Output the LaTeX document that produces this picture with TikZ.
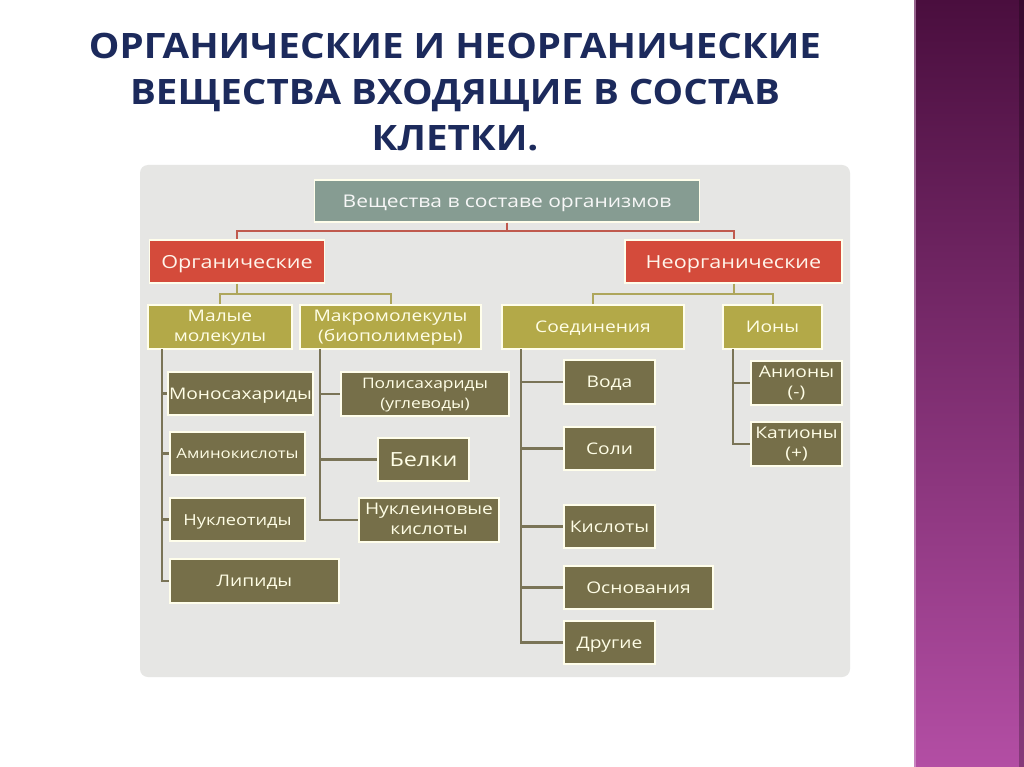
\documentclass[tikz,border=0pt]{standalone}
\usepackage{fontspec}
\setmainfont{Open Sans}[FakeStretch=1.2]
\newfontfamily\titlefont{Open Sans}[FakeStretch=1.1]
\usetikzlibrary{shapes.geometric}

\definecolor{slidenavy}{HTML}{1C2A5C}
\definecolor{panelgray}{HTML}{E6E6E4}
\definecolor{rootgreen}{HTML}{869C92}
\definecolor{classred}{HTML}{D44B3B}
\definecolor{groupolive}{HTML}{B3A948}
\definecolor{itemolive}{HTML}{766F49}
\definecolor{redline}{HTML}{C05A4E}
\definecolor{oliveline}{HTML}{AEA65C}
\definecolor{darkline}{HTML}{7A7457}
\definecolor{bandtop}{HTML}{4A0E3E}
\definecolor{bandbot}{HTML}{B34EA4}

% two centred lines inside one box
\newcommand\boxlines[2]{\raisebox{-3pt}{\begin{tabular}{@{}c@{}}#1\\#2\end{tabular}}}

\begin{document}
\begin{tikzpicture}[
  x=1pt, y=-1pt,
  every node/.style={inner sep=0pt, align=center},
  box/.style={rectangle, draw=white!92!yellow, line width=1.5pt,
    font=\fontsize{16}{18.5}\selectfont,
    execute at begin node={\rule{0pt}{0.98em}},
    execute at end node={\rule[-0.25em]{0pt}{0.25em}}},
  twoline/.style={font=\fontsize{16}{20}\selectfont},
  rootbox/.style={box, fill=rootgreen, text=white!94!gray,
    font=\fontsize{17.5}{19}\selectfont},
  classbox/.style={box, fill=classred, text=white!92!orange,
    font=\fontsize{18}{19}\selectfont},
  groupbox/.style={box, fill=groupolive, text=white!90!yellow},
  itembox/.style={box, fill=itemolive, text=white!90!yellow},
  redlink/.style={draw=redline, line width=2pt},
  olivelink/.style={draw=oliveline, line width=2pt},
  darklink/.style={draw=darkline, line width=2.8pt},
]
\useasboundingbox (0,0) rectangle (1024,767);
\fill[white] (0,0) rectangle (1024,767);

% purple band on the right
\shade[top color=bandtop, bottom color=bandbot] (914,0) rectangle (1024,767);
\fill[white!60!bandbot, opacity=0.5] (914,0) rectangle (916,767);
\fill[black, opacity=0.25] (1019,0) rectangle (1024,767);

% title
\node[text=slidenavy, font=\titlefont\bfseries\fontsize{35}{46}\selectfont] (title) at (455,92)
  {ОРГАНИЧЕСКИЕ И НЕОРГАНИЧЕСКИЕ\\ВЕЩЕСТВА ВХОДЯЩИЕ В СОСТАВ\\КЛЕТКИ.};

% panel
\fill[panelgray, rounded corners=8pt] (140,165) rectangle (850,677);

% top levels
\node[rootbox, minimum width=385, minimum height=42] (root) at (507,201) {Вещества в составе организмов};
\node[classbox, minimum width=175, minimum height=43] (org) at (237,261.5) {Органические};
\node[classbox, minimum width=217, minimum height=43] (inorg) at (733.5,261.5) {Неорганические};

\node[groupbox, twoline, minimum width=144, minimum height=44] (small) at (220,327) {\boxlines{Малые}{молекулы}};
\node[groupbox, twoline, minimum width=181, minimum height=44] (macro) at (390.5,327) {\boxlines{Макромолекулы}{(биополимеры)}};
\node[groupbox, minimum width=182, minimum height=44] (comp) at (593,327) {Соединения};
\node[groupbox, minimum width=99, minimum height=44] (ions) at (772.5,327) {Ионы};

% organic items
\node[itembox, minimum width=145, minimum height=43] (mono) at (240.5,393.5) {Моносахариды};
\node[itembox, minimum width=135, minimum height=43, font=\fontsize{14}{16}\selectfont] (amino) at (237.5,453.5) {Аминокислоты};
\node[itembox, minimum width=135, minimum height=43, font=\fontsize{15.2}{17}\selectfont] (nucl) at (237.5,519.5) {Нуклеотиды};
\node[itembox, minimum width=169, minimum height=44] (lip) at (254.5,581) {Липиды};

\node[itembox, twoline, minimum width=168, minimum height=44, font=\fontsize{14.5}{20}\selectfont] (poly) at (425,394) {\boxlines{Полисахариды}{(углеводы)}};
\node[itembox, minimum width=91, minimum height=43, font=\fontsize{19.5}{20}\selectfont] (prot) at (423.5,459.5) {Белки};
\node[itembox, twoline, minimum width=140, minimum height=44] (nucac) at (429,520) {\boxlines{Нуклеиновые}{кислоты}};

% inorganic items
\node[itembox, minimum width=91, minimum height=44] (water) at (609.5,382) {Вода};
\node[itembox, minimum width=91, minimum height=43] (salt) at (609.5,448.5) {Соли};
\node[itembox, minimum width=91, minimum height=43] (acid) at (609.5,526.5) {Кислоты};
\node[itembox, minimum width=149, minimum height=43] (base) at (638.5,587.5) {Основания};
\node[itembox, minimum width=91, minimum height=43] (other) at (609.5,642.5) {Другие};

\node[itembox, twoline, minimum width=91, minimum height=44] (anion) at (796.5,383) {\boxlines{Анионы}{(-)}};
\node[itembox, twoline, minimum width=91, minimum height=44] (cation) at (796.5,444) {\boxlines{Катионы}{(+)}};

% links
\draw[redlink] (root.south) -- ++(0,8) -| (org.north);
\draw[redlink] (root.south) -- ++(0,8) -| (inorg.north);
\draw[olivelink] (org.south) -- ++(0,10) -| (small.north);
\draw[olivelink] (org.south) -- ++(0,10) -| (macro.north);
\draw[olivelink] (inorg.south) -- ++(0,10) -| (comp.north);
\draw[olivelink] (inorg.south) -- ++(0,10) -| (ions.north);

\coordinate (smalltrunk) at (162,349);
\coordinate (macrotrunk) at (320,349);
\coordinate (comptrunk) at (521,349);
\coordinate (ionstrunk) at (733,349);

\draw[darklink] (smalltrunk) |- (lip.west);
\foreach \n in {mono,amino,nucl}
  \draw[darklink] (smalltrunk |- \n.west) -- (\n.west);
\draw[darklink] (macrotrunk) |- (nucac.west);
\foreach \n in {poly,prot}
  \draw[darklink] (macrotrunk |- \n.west) -- (\n.west);
\draw[darklink] (comptrunk) |- (other.west);
\foreach \n in {water,salt,acid,base}
  \draw[darklink] (comptrunk |- \n.west) -- (\n.west);
\draw[darklink] (ionstrunk) |- (cation.west);
\draw[darklink] (ionstrunk |- anion.west) -- (anion.west);

\end{tikzpicture}
\end{document}
